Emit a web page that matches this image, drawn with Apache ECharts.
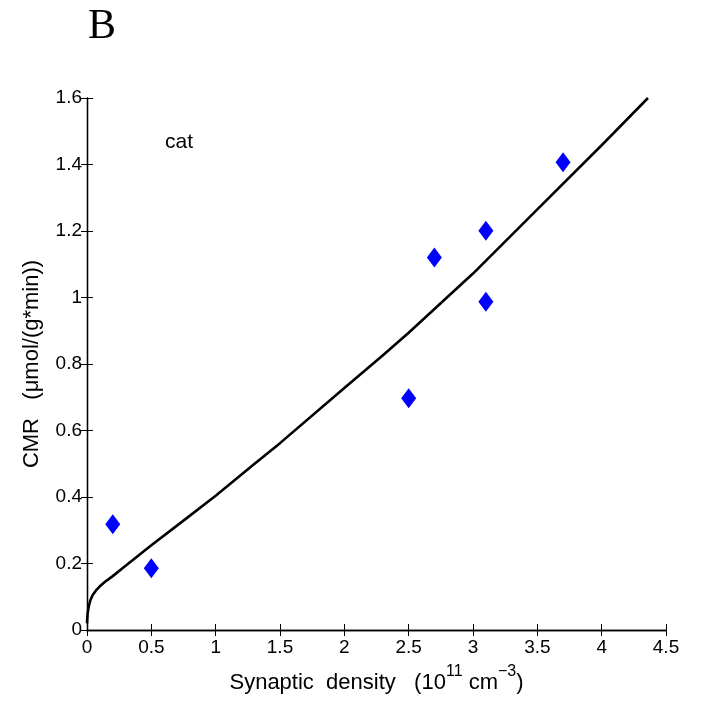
<!DOCTYPE html>
<html>
<head>
<meta charset="utf-8">
<script src="https://cdn.jsdelivr.net/npm/echarts@6/dist/echarts.min.js"></script>
<style>
  html, body { margin: 0; padding: 0; background: #fff; }
  #main { width: 703px; height: 706px; }
</style>
</head>
<body>
<div id="main"></div>
<script>
// measured cat data (synaptic density, CMR)
var catDensity = [0.2, 0.5, 2.5, 2.7, 3.1, 3.1, 3.7];
var catCmr = [0.318, 0.186, 0.697, 1.120, 1.201, 0.987, 1.407];

// fitted curve
var fitDensity = [0, 0.002, 0.005, 0.013, 0.025, 0.044, 0.07, 0.096, 0.14, 0.2, 0.3, 0.5, 0.77, 1.0, 1.3, 1.5, 2.0, 2.3, 2.5, 3.0, 3.5, 4.0, 4.36];
var fitCmr = [0.02, 0.035, 0.05, 0.07, 0.088, 0.105, 0.119, 0.13, 0.145, 0.162, 0.193, 0.255, 0.335, 0.404, 0.499, 0.562, 0.728, 0.826, 0.894, 1.072, 1.265, 1.458, 1.6];

var xTicks = [0, 0.5, 1, 1.5, 2, 2.5, 3, 3.5, 4, 4.5];
var yTicks = [0, 0.2, 0.4, 0.6, 0.8, 1, 1.2, 1.4, 1.6];

function zip(a, b) {
    return a.map(function (v, i) { return [v, b[i]]; });
}

var font = 'Liberation Sans, Arial, sans-serif';

var axisCommon = {
    type: 'value',
    axisLine: { show: true, lineStyle: { color: '#000', width: 1.3 } },
    axisTick: { show: true, inside: true, length: 6, lineStyle: { color: '#000', width: 1 } },
    splitLine: { show: false }
};

var chart = echarts.init(document.getElementById('main'));
chart.setOption({
    animation: false,
    backgroundColor: '#fff',
    grid: { left: 87, top: 98, right: 37, bottom: 76, containLabel: false },
    xAxis: [
        Object.assign({}, axisCommon, {
            min: xTicks[0], max: xTicks[xTicks.length - 1], interval: 0.5,
            position: 'bottom',
            axisLabel: { color: '#000', fontSize: 19, fontFamily: font, margin: 8 },
            name: '{n|Synaptic  density   (10}{s|11}{n| cm}{s|\u22123}{n|)}',
            nameLocation: 'middle',
            nameGap: 34,
            nameTextStyle: {
                rich: {
                    n: { fontSize: 22, fontFamily: font, color: '#000', verticalAlign: 'bottom', lineHeight: 30 },
                    s: { fontSize: 16, fontFamily: font, color: '#000', verticalAlign: 'top', lineHeight: 30, padding: [0, 0, 14, 0] }
                }
            }
        }),
        Object.assign({}, axisCommon, {
            min: xTicks[0], max: xTicks[xTicks.length - 1], interval: 0.5,
            position: 'top',
            axisLabel: { show: false }
        })
    ],
    yAxis: [
        Object.assign({}, axisCommon, {
            min: yTicks[0], max: yTicks[yTicks.length - 1], interval: 0.2,
            position: 'left',
            axisLabel: { color: '#000', fontSize: 19, fontFamily: font, margin: 5 },
            name: 'CMR   (\u03bcmol/(g*min))',
            nameLocation: 'middle',
            nameGap: 44,
            nameTextStyle: { fontSize: 22, fontFamily: font, color: '#000' }
        }),
        Object.assign({}, axisCommon, {
            min: yTicks[0], max: yTicks[yTicks.length - 1], interval: 0.2,
            position: 'right',
            axisLabel: { show: false }
        })
    ],
    graphic: [
        {
            type: 'text', left: 88, top: 6,
            style: { text: 'B', font: '42px "Liberation Serif", "Times New Roman", serif', fill: '#000' }
        },
        {
            type: 'text', left: 165, top: 132,
            style: { text: 'cat', font: '21px ' + font, fill: '#000' }
        }
    ],
    series: [
        {
            type: 'line',
            data: zip(fitDensity, fitCmr),
            smooth: false,
            showSymbol: false,
            lineStyle: { color: '#000', width: 2.6, join: 'round' },
            z: 2
        },
        {
            type: 'scatter',
            data: zip(catDensity, catCmr),
            symbol: 'diamond',
            symbolSize: [15, 20],
            itemStyle: { color: '#0000ff', opacity: 1 },
            z: 3
        }
    ]
});
</script>
</body>
</html>
